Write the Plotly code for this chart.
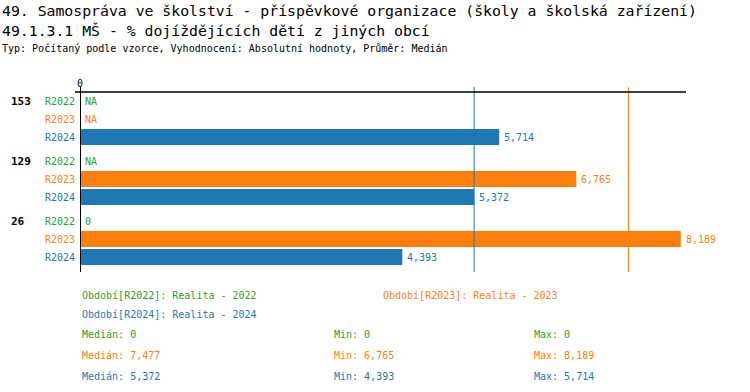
import numpy as np
import plotly.graph_objects as go

# ---- data ----
groups = ["153", "129", "26"]
series = ["R2022", "R2023", "R2024"]
series_colors = ["#2ca02c", "#ff7f0e", "#1f77b4"]
values = {
    "R2022": [None, None, 0],
    "R2023": [None, 6.765, 8.189],
    "R2024": [5.714, 5.372, 4.393],
}
legend_texts = ["Období[R2022]: Realita - 2022",
                "Období[R2023]: Realita - 2023",
                "Období[R2024]: Realita - 2024"]
title1 = "49. Samospráva ve školství - příspěvkové organizace (školy a školská zařízení)"
title2 = "49.1.3.1 MŠ - % dojíždějících dětí z jiných obcí"
subtitle = "Typ: Počítaný podle vzorce, Vyhodnocení: Absolutní hodnoty, Průměr: Medián"

# ---- layout constants (pixels) ----
W, H = 750, 392
L, R, T, B = 80, 64, 92, 126
PW, PH = W - L - R, H - T - B
FONT = "DejaVu Sans Mono"

def px(x):
    return (x - L) / PW

def py(y):
    return 1 - (y - T) / PH

def fmt(v):
    return f"{v:.3f}".replace(".", ",")

gap = 1 / 3
ypos = lambda g, s: g * (3 + gap) + s

fig = go.Figure()
annotations = []

for si, s in enumerate(series):
    ys = [ypos(g, si) for g in range(len(groups))]
    fig.add_trace(go.Bar(
        x=values[s], y=ys, orientation="h", width=0.88,
        marker=dict(color=series_colors[si], line=dict(width=0)),
        showlegend=False, hoverinfo="x",
    ))
    for g in range(len(groups)):
        v = values[s][g]
        if v is None:
            txt = "NA"
        elif v == 0:
            txt = "0"
        else:
            txt = fmt(v)
        annotations.append(dict(
            x=0 if v is None else v, y=ys[g], xref="x", yref="y",
            text=txt, showarrow=False, xanchor="left", yanchor="middle", xshift=3,
            font=dict(family=FONT, size=10, color=series_colors[si]),
        ))
        annotations.append(dict(
            x=px(77), y=ys[g], xref="paper", yref="y", text=s,
            showarrow=False, xanchor="right", yanchor="middle",
            font=dict(family=FONT, size=10, color=series_colors[si]),
        ))

for g, name in enumerate(groups):
    annotations.append(dict(
        x=px(9), y=ypos(g, 0), xref="paper", yref="y", text=f"<b>{name}</b>",
        showarrow=False, xanchor="left", yanchor="middle",
        font=dict(family=FONT, size=11, color="black"),
    ))

for txt, yy, sz in [(title1, 10.5, 14.8), (title2, 30, 14.8), (subtitle, 49, 10)]:
    annotations.append(dict(
        x=px(0), y=py(yy), xref="paper", yref="paper", text=txt,
        showarrow=False, xanchor="left", yanchor="middle",
        font=dict(family=FONT, size=sz, color="black"),
    ))

leg_pos = [(80, 295), (381, 295), (80, 314)]
for i, (lx, ly) in enumerate(leg_pos):
    annotations.append(dict(
        x=px(lx), y=py(ly), xref="paper", yref="paper", text=legend_texts[i],
        showarrow=False, xanchor="left", yanchor="middle",
        font=dict(family=FONT, size=10, color=series_colors[i]),
    ))

medians = []
for si, s in enumerate(series):
    vals = np.array([v for v in values[s] if v is not None], dtype=float)
    med, mn, mx = np.median(vals), vals.min(), vals.max()
    medians.append(med)
    sy = [334, 355, 376][si]
    for lx, lab, v in [(80, "Medián", med), (332, "Min", mn), (532, "Max", mx)]:
        t = "0" if v == 0 else fmt(v)
        annotations.append(dict(
            x=px(lx), y=py(sy), xref="paper", yref="paper", text=f"{lab}: {t}",
            showarrow=False, xanchor="left", yanchor="middle",
            font=dict(family=FONT, size=10, color=series_colors[si]),
        ))

shapes = []
for si, med in enumerate(medians):
    if med != 0:
        shapes.append(dict(type="line", xref="x", yref="paper", x0=med, x1=med,
                           y0=py(272), y1=py(87),
                           line=dict(color=series_colors[si], width=1)))
shapes.append(dict(type="line", xref="paper", yref="paper", x0=px(75), x1=px(686),
                   y0=py(92), y1=py(92), line=dict(color="black", width=1.5)))
shapes.append(dict(type="line", xref="x", yref="paper", x0=0, x1=0,
                   y0=py(272), y1=py(87), line=dict(color="black", width=2)))

ymax = ypos(len(groups) - 1, 2) + 0.5
fig.update_layout(
    width=W, height=H,
    margin=dict(l=L, r=R, t=T, b=B),
    paper_bgcolor="white", plot_bgcolor="white",
    barmode="overlay",
    xaxis=dict(range=[0, 8.26], side="top", tickvals=[0], ticktext=["0"],
               showgrid=False, zeroline=False, showline=False, ticks="",
               ticklabelstandoff=2,
               tickfont=dict(family=FONT, size=10, color="black"), fixedrange=True),
    yaxis=dict(range=[ymax, -0.5], showticklabels=False, showgrid=False,
               zeroline=False, showline=False, fixedrange=True),
    annotations=annotations,
    shapes=shapes,
    showlegend=False,
)

fig.write_html("out.html", config={"displayModeBar": False},
               post_script="document.body.style.margin='0';")
